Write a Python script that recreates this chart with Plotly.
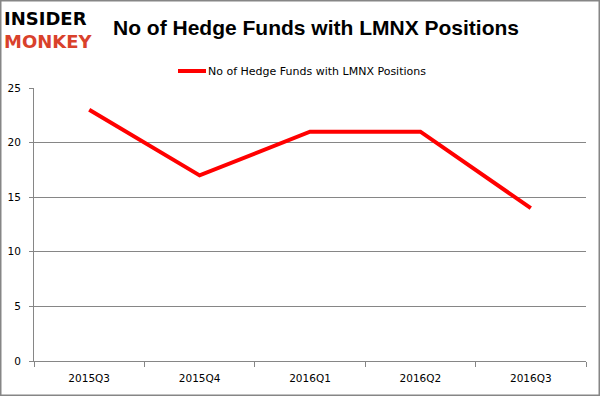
import plotly.graph_objects as go

quarters = ["2015Q3", "2015Q4", "2016Q1", "2016Q2", "2016Q3"]
funds = [23, 17, 21, 21, 14]
y_ticks = [0, 5, 10, 15, 20, 25]
series_name = "No of Hedge Funds with LMNX Positions"
title_text = "No of Hedge Funds with LMNX Positions"

W, H = 600, 396
ML, MR, MT, MB = 34, 14, 88, 35
PW, PH = W - ML - MR, H - MT - MB

def px_x(p):
    return (p - ML) / PW

def px_y(p):
    return (H - MB - p) / PH

fig = go.Figure()
fig.add_trace(go.Scatter(
    x=quarters, y=funds, mode="lines", name=series_name,
    line=dict(color="#ff0000", width=4), showlegend=False,
))

grid = "#868686"
fig.update_layout(
    width=W, height=H,
    margin=dict(l=ML, r=MR, t=MT, b=MB, autoexpand=False),
    paper_bgcolor="white", plot_bgcolor="white",
    showlegend=False,
    xaxis=dict(
        type="category", range=[-0.5, 4.5], automargin=False,
        showgrid=False, showline=True, linecolor=grid, linewidth=1,
        ticks="outside", ticklen=5, tickcolor=grid, tickson="boundaries",
        tickfont=dict(family="DejaVu Sans", size=10.5, color="black"),
        ticklabelstandoff=7,
    ),
    yaxis=dict(
        range=[0, 25], tickvals=y_ticks, automargin=False,
        showgrid=True, gridcolor=grid, gridwidth=1,
        showline=True, linecolor=grid, linewidth=1,
        ticks="outside", ticklen=4, tickcolor=grid,
        zeroline=False,
        tickfont=dict(family="DejaVu Sans", size=10.5, color="black"),
        ticklabelstandoff=6,
    ),
)

# Title
fig.add_annotation(
    text="<b>" + title_text + "</b>", xref="paper", yref="paper",
    x=px_x(316), y=px_y(28), xanchor="center", yanchor="middle",
    showarrow=False, font=dict(family="Liberation Sans", size=21, color="black"),
)

# Legend (manual)
fig.add_shape(type="line", xref="paper", yref="paper",
              x0=px_x(178), x1=px_x(206), y0=px_y(71), y1=px_y(71),
              line=dict(color="#ff0000", width=4))
fig.add_annotation(
    text=series_name, xref="paper", yref="paper",
    x=px_x(206), y=px_y(71), xanchor="left", yanchor="middle",
    showarrow=False, font=dict(family="DejaVu Sans", size=11, color="black"),
)

# Logo (two lines in one text)
fig.add_annotation(
    text="<b>INSIDER</b><br><b><span style='color:#d9412b'>MONKEY</span></b>",
    xref="paper", yref="paper",
    x=px_x(2), y=px_y(29.5), xanchor="left", yanchor="middle", align="left",
    showarrow=False, font=dict(family="DejaVu Sans", size=18, color="black"),
)

# Outer border
fig.add_shape(type="rect", xref="paper", yref="paper",
              x0=px_x(0.75), x1=px_x(599.25), y0=px_y(395.25), y1=px_y(0.75),
              line=dict(color="#868686", width=1.5), fillcolor="rgba(0,0,0,0)")

fig.write_html(
    "out.html",
    config={"displayModeBar": False},
    post_script="document.body.style.margin='0';document.body.style.overflow='hidden';",
)
